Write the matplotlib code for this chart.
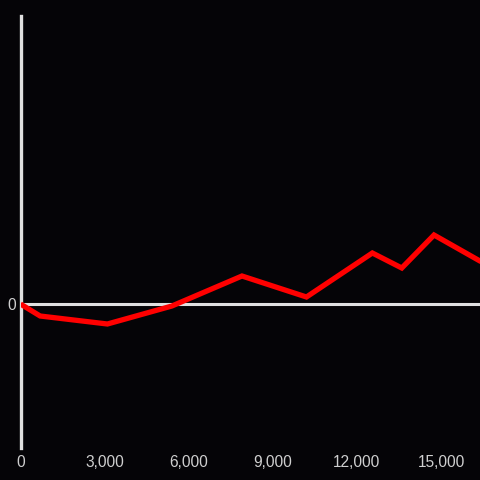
import matplotlib
matplotlib.use("Agg")
import matplotlib.pyplot as plt

# data
x_vals = [0, 700, 3100, 5400, 7900, 10200, 12550, 13600, 14750, 16450]
y_vals = [0, -12, -20, -2, 28, 7, 51, 36, 69, 42]
x_ticks = [0, 3000, 6000, 9000, 12000, 15000]
x_tick_labels = ["0", "3,000", "6,000", "9,000", "12,000", "15,000"]

bg = "#050407"
axis_col = "#e0e0e0"
label_col = "#cfcfcf"

fig = plt.figure(figsize=(4.8, 4.8), dpi=100)
fig.patch.set_facecolor(bg)
ax = fig.add_axes([20.5 / 480, 32 / 480, 1 - 20.5 / 480, 432 / 480])
ax.set_facecolor(bg)

ax.plot(x_vals, y_vals, color="#ff0000", linewidth=3.8, solid_joinstyle="miter",
        solid_capstyle="butt", zorder=3)
ax.axhline(0, color=axis_col, linewidth=2.2, zorder=2)

ax.set_xlim(0, 16390)
ax.set_ylim(-144, 288)

for side in ["top", "right", "bottom"]:
    ax.spines[side].set_visible(False)
ax.spines["left"].set_color(axis_col)
ax.spines["left"].set_linewidth(2.4)

ax.set_xticks(x_ticks)
ax.set_xticklabels(x_tick_labels)
ax.set_yticks([0])
ax.set_yticklabels(["0"])
ax.tick_params(axis="both", length=0, colors=label_col, labelsize=11.2)
ax.tick_params(axis="x", pad=5)
ax.tick_params(axis="y", pad=3)
for lbl in ax.get_xticklabels() + ax.get_yticklabels():
    lbl.set_fontfamily("Liberation Sans")

fig.savefig("out.png", dpi=100, facecolor=bg)
